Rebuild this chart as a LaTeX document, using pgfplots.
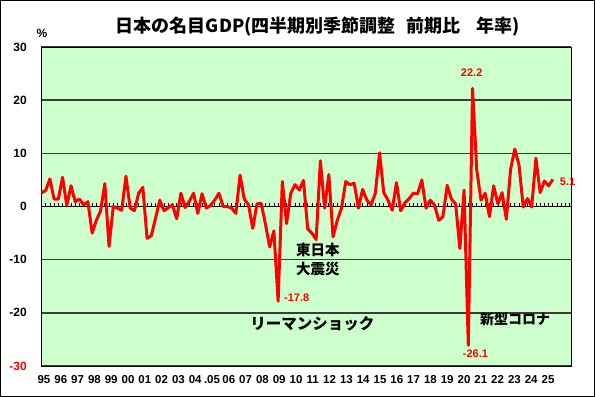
\documentclass[border=0pt]{standalone}
\usepackage{fontspec}
\setmainfont{Liberation Sans}
\newfontfamily\jp{Noto Sans CJK JP}
\usepackage{pgfplots}
\usepackage{pgfplotstable}
\pgfplotsset{compat=1.18}
\definecolor{plotbg}{RGB}{204,255,204}
\definecolor{gridc}{RGB}{60,60,60}

\pgfplotstableread{
q v
0 2.6
1 3.0
2 5.2
3 1.4
4 1.4
5 5.5
6 0.2
7 3.9
8 0.9
9 1.4
10 0.3
11 0.9
12 -5.0
13 -2.6
14 -0.8
15 4.3
16 -7.5
17 0.0
18 -0.3
19 -0.7
20 5.7
21 -0.3
22 -0.8
23 2.5
24 3.6
25 -6.0
26 -5.5
27 -2.2
28 1.2
29 -0.8
30 -0.2
31 0.3
32 -2.3
33 2.5
34 -0.2
35 1.0
36 2.5
37 -1.3
38 2.4
39 -0.3
40 0.2
41 1.2
42 2.5
43 0.0
44 0.0
45 -0.3
46 -1.3
47 5.9
48 1.4
49 0.3
50 -4.1
51 0.5
52 0.6
53 -3.3
54 -7.6
55 -4.6
56 -17.8
57 4.7
58 -3.2
59 2.5
60 4.1
61 3.1
62 4.9
63 -4.2
64 -5.0
65 -6.2
66 8.6
67 -0.3
68 6.0
69 -5.7
70 -2.6
71 -0.3
72 4.7
73 4.1
74 4.4
75 -0.3
76 3.2
77 1.2
78 0.3
79 2.5
80 10.1
81 2.6
82 1.2
83 -0.7
84 4.5
85 -0.8
86 0.7
87 1.5
88 2.5
89 2.4
90 5.0
91 -0.3
92 1.2
93 0.3
94 -2.6
95 -1.9
96 4.0
97 1.4
98 0.5
99 -7.9
100 3.1
101 -26.1
102 22.2
103 6.9
104 1.2
105 2.5
106 -1.9
107 3.9
108 0.5
109 2.6
110 -2.4
111 7.0
112 10.8
113 7.8
114 -0.1
115 1.5
116 -0.1
117 9.1
118 2.6
119 4.8
120 3.9
121 5.1
}\gdp

\begin{document}
\begin{tikzpicture}
\useasboundingbox (-41bp,-31bp) rectangle (554bp,366bp);
\fill[white] (-41bp,-31bp) rectangle (554bp,366bp);
\draw[line width=1.5bp] (-40.25bp,-30.25bp) rectangle (553.25bp,365.25bp);
\node[font=\jp\bfseries\fontsize{18bp}{21bp}\selectfont] at (277bp,339bp) {日本の名目GDP(四半期別季節調整\hspace{0.6em}前期比\hspace{0.9em}年率)};
\node[font=\bfseries\fontsize{12bp}{14bp}\selectfont] at (1bp,333bp) {\%};
\begin{axis}[
  at={(0,0)}, anchor=south west, scale only axis,
  width=530bp, height=319bp,
  xmin=-0.1, xmax=125.3, ymin=-30, ymax=30,
  axis background/.style={fill=plotbg},
  axis line style={line width=0.8bp},
  ytick={-30,-20,-10,0,10,20,30},
  yticklabels={\textcolor{red}{-30},-20,-10,0,10,20,30},
  yticklabel style={font=\bfseries\fontsize{12bp}{14bp}\selectfont, anchor=east, inner sep=0pt, xshift=-14bp},
  xtick={0.61,4.585,...,120.5},
  xticklabels={95,96,97,98,99,00,01,02,03,04,.05,06,07,08,09,10,11,12,13,14,15,16,17,18,19,20,21,22,23,24,25},
  xticklabel style={font=\bfseries\fontsize{11.5bp}{13bp}\selectfont, anchor=north, inner sep=0pt, yshift=-9bp},
  major tick length=0pt,
  ymajorgrids, grid style={gridc, line width=1.5bp},
]
\end{axis}
\begin{axis}[
  at={(0,0)}, anchor=south west, scale only axis,
  width=530bp, height=319bp,
  xmin=-0.1, xmax=125.3, ymin=-30, ymax=30,
  axis x line=middle, axis y line=none,
  axis line style={-, line width=1.5bp, black},
  xtick={0,1,...,125}, xticklabels={},
  xtick align=inside, major tick length=3.5bp,
  tick style={black, line width=0.7bp},
  clip=false,
]
\addplot[red, line width=3bp, line join=round, mark=none] table[x=q, y=v] {\gdp};
\node[red, font=\bfseries\fontsize{11bp}{13bp}\selectfont] at (axis cs:60.4,-17.2) {-17.8};
\node[red, font=\bfseries\fontsize{11bp}{13bp}\selectfont] at (axis cs:101.8,25.1) {22.2};
\node[red, font=\bfseries\fontsize{11bp}{13bp}\selectfont] at (axis cs:102.7,-27.6) {-26.1};
\node[red, font=\bfseries\fontsize{11bp}{13bp}\selectfont] at (axis cs:124.5,4.7) {5.1};
\node[font=\jp\bfseries\fontsize{14.5bp}{16bp}\selectfont] at (axis cs:65.4,-8.2) {東日本};
\node[font=\jp\bfseries\fontsize{14.5bp}{16bp}\selectfont] at (axis cs:65.4,-11.8) {大震災};
\node[font=\jp\bfseries\fontsize{15.5bp}{17bp}\selectfont] at (axis cs:64.1,-22.1) {リーマンショック};
\node[font=\jp\bfseries\fontsize{14bp}{16bp}\selectfont] at (axis cs:112.1,-21.3) {新型コロナ};
\end{axis}
\end{tikzpicture}
\end{document}
